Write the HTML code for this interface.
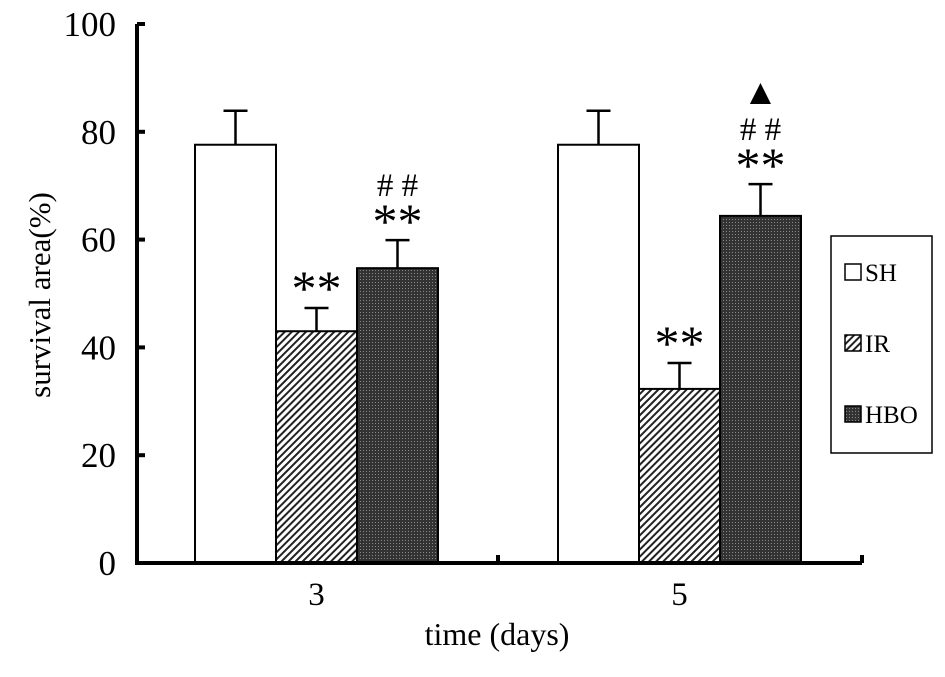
<!DOCTYPE html>
<html><head><meta charset="utf-8"><style>
body{margin:0;background:#fff}
svg text{font-family:"Liberation Serif",serif;fill:#000}
</style></head><body>
<svg width="945" height="672" viewBox="0 0 945 672">
<defs>
<pattern id="hatch" width="5" height="5" patternUnits="userSpaceOnUse" patternTransform="rotate(45)">
<rect width="5" height="5" fill="#fff"/><rect width="2" height="5" fill="#222"/></pattern>
<pattern id="dots" width="3" height="3" patternUnits="userSpaceOnUse">
<rect width="3" height="3" fill="#333"/><rect width="1" height="1" fill="#888"/></pattern>
</defs>
<g id="chart"></g>
</svg>
<script>
const categories=["3","5"];
const series=["SH","IR","HBO"];
const valuesSH=[77.6,77.6];
const valuesIR=[43.0,32.3];
const valuesHBO=[54.7,64.4];
const errSH=[6.3,6.3];
const errIR=[4.3,4.8];
const errHBO=[5.2,5.9];
const yTicks=[0,20,40,60,80,100];
const annIR=["**","**"];
const annHBO=[["**","# #"],["**","# #","▲"]];
const NS="http://www.w3.org/2000/svg";
const g=document.getElementById('chart');
function el(t,a,p){const e=document.createElementNS(NS,t);for(const k in a)e.setAttribute(k,a[k]);(p||g).appendChild(e);return e;}
const y0=563,y100=24;
function yS(v){return y0-(y0-y100)*v/100;}
const groupStart=[195,558],barW=81;
function xS(ci,si){return groupStart[ci]+si*barW;}
const fills=["#fff","url(#hatch)","url(#dots)"];
const vals=[valuesSH,valuesIR,valuesHBO],errs=[errSH,errIR,errHBO];
const annSize=[50,33,36],annOff=[2,44,80];
categories.forEach((c,ci)=>{
 series.forEach((s,si)=>{
  const x=xS(ci,si),v=vals[si][ci],e=errs[si][ci];
  const r=el('rect',{x:x,y:yS(v),width:barW,height:y0-yS(v),fill:fills[si],stroke:'#000','stroke-width':2});
  
  
  const cx=x+barW/2;
  const eb=el('path',{d:`M${cx},${yS(v)}V${yS(v+e)}M${cx-12},${yS(v+e)}H${cx+12}`,stroke:'#000','stroke-width':2.5,fill:'none'});
  
  
 });
 const xi=xS(ci,1)+barW/2,ti=yS(valuesIR[ci]+errIR[ci]);
 const a=el('text',{x:xi,y:ti-3,'text-anchor':'middle','font-size':50});a.textContent=annIR[ci];
 
 
 const xh=xS(ci,2)+barW/2,th=yS(valuesHBO[ci]+errHBO[ci]);
 annHBO[ci].forEach((t,k)=>{
  const tx=el('text',{x:xh,y:th-annOff[k],'text-anchor':'middle','font-size':annSize[k]});
  tx.textContent=t;
  
  
 });
 const xl=el('text',{x:(xS(ci,0)+xS(ci,3))/2,y:605,'text-anchor':'middle','font-size':33});xl.textContent=c;
 
 
});
const ax=el('path',{d:`M137,${y100}V${y0+2}M135,${y0}H862M498,${y0}V${y0-8}M862,${y0}V${y0-8}`,stroke:'#000','stroke-width':4,fill:'none'});


yTicks.forEach(t=>{
 const tk=el('path',{d:`M137,${yS(t)}H145`,stroke:'#000','stroke-width':4});
 
 
 const tl=el('text',{x:116,y:yS(t)+12,'text-anchor':'end','font-size':35});tl.textContent=t;
 
 
});
const yt=el('text',{x:0,y:0,'text-anchor':'middle','font-size':31,transform:'translate(50,295) rotate(-90)'});yt.textContent='survival area(%)';


const xt=el('text',{x:497,y:645,'text-anchor':'middle','font-size':32});xt.textContent='time (days)';


const lb=el('rect',{x:831,y:236,width:101,height:217,fill:'#fff',stroke:'#000','stroke-width':1.5});


series.forEach((s,si)=>{
 const cy=272+si*71;
 const sw=el('rect',{x:845,y:cy-8,width:16,height:16,fill:fills[si],stroke:'#000','stroke-width':1.5});
 
 
 const lt=el('text',{x:865,y:cy+9,'font-size':25});lt.textContent=s;
 
 
});
</script>
</body></html>
